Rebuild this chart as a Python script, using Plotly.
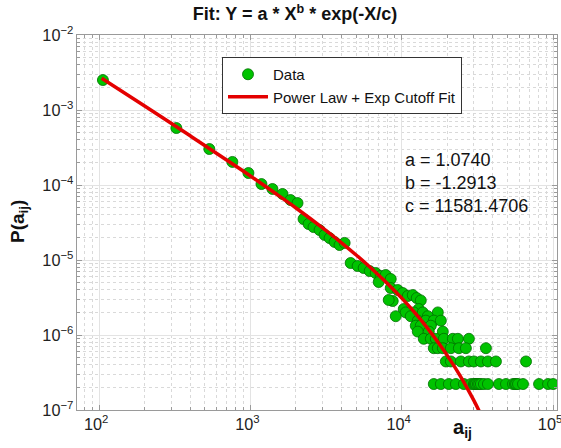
import plotly.graph_objects as go

# ---- data ----
data_x = [106, 324, 535, 760, 970, 1183, 1398, 1629, 1840, 2048,
          2244, 2422, 2612, 2864, 3090, 3336, 3600, 3882, 4194,
          4596, 5111, 5603, 6139, 6726, 7260, 7834, 8457, 7042,
          8457, 9409, 10153, 10957, 11823, 12568, 8718, 8203, 13361,
          10308, 12960,
          11126, 12007, 13776, 17314, 10628,
          9127, 11470, 14866,
          12764, 14418, 16288, 18126,
          12378, 13361, 15562,
          12764, 15094, 18685,
          13985, 15562, 16794, 18972, 21764, 23493, 27780,
          16288, 17314, 18685, 21113, 23850, 26535, 36000,
          19561, 21113, 24587, 27780, 29985, 33361, 37110, 41930, 66260,
          16288, 18126, 20480, 22785, 25740, 28641, 29985, 30500, 31000,
          31857, 32500, 33361, 34914, 37110, 43890, 48840, 54340, 56000,
          57000, 58650, 63290, 80810, 92660, 100000]
data_y = [2.51e-3, 5.75e-4, 3.02e-4, 2.03e-4, 1.445e-4, 1.03e-4, 8.85e-5, 7.59e-5, 6.31e-5, 5.75e-5,
          3.52e-5, 3.02e-5, 2.75e-5, 2.51e-5, 2.16e-5, 1.96e-5, 1.74e-5, 1.585e-5, 1.69e-5,
          9.12e-6, 8.32e-6, 7.82e-6, 7.13e-6, 6.71e-6, 6.12e-6, 6.31e-6, 5.58e-6, 5.09e-6,
          4.23e-6, 3.98e-6, 3.63e-6, 3.31e-6, 3.41e-6, 3.11e-6, 2.84e-6, 2.93e-6, 2.89e-6,
          2.22e-6, 2.22e-6,
          2.0e-6, 2.0e-6, 2.0e-6, 2.0e-6, 2.0e-6,
          1.78e-6, 1.78e-6, 1.78e-6,
          1.555e-6, 1.555e-6, 1.555e-6, 1.555e-6,
          1.33e-6, 1.33e-6, 1.33e-6,
          1.11e-6, 1.11e-6, 1.11e-6,
          8.9e-7, 8.9e-7, 8.9e-7, 8.9e-7, 8.9e-7, 8.9e-7, 8.9e-7,
          6.67e-7, 6.67e-7, 6.67e-7, 6.67e-7, 6.67e-7, 6.67e-7, 6.67e-7,
          4.44e-7, 4.44e-7, 4.44e-7, 4.44e-7, 4.44e-7, 4.44e-7, 4.44e-7, 4.44e-7, 4.44e-7,
          2.22e-7, 2.22e-7, 2.22e-7, 2.22e-7, 2.22e-7, 2.22e-7, 2.22e-7, 2.22e-7, 2.22e-7,
          2.22e-7, 2.22e-7, 2.22e-7, 2.22e-7, 2.22e-7, 2.22e-7, 2.22e-7, 2.22e-7, 2.22e-7,
          2.22e-7, 2.22e-7, 2.22e-7, 2.22e-7, 2.22e-7, 2.22e-7]

fit_x = [104, 200, 400, 700, 1000, 1500, 2000, 3000, 4000, 5000, 6000, 8000,
         10000, 12000, 15000, 18000, 21000, 24000, 27000, 30000, 33000]
fit_y = [2.646e-3, 1.128e-3, 4.527e-4, 2.143e-4, 1.317e-4, 7.47e-5, 4.94e-5, 2.68e-5,
         1.697e-5, 1.167e-5, 8.46e-6, 4.91e-6, 3.10e-6, 2.06e-6, 1.191e-6, 7.26e-7,
         4.59e-7, 2.985e-7, 1.978e-7, 1.333e-7, 9.09e-8]

param_text = ["a = 1.0740", "b = -1.2913", "c = 11581.4706"]
title_text = "<b>Fit: Y = a * X<sup>b</sup> * exp(-X/c)</b>"

FONT = "Liberation Sans, Arial, Helvetica, sans-serif"

fig = go.Figure()
fig.add_trace(go.Scatter(
    x=data_x, y=data_y, mode="markers", name="Data",
    marker=dict(size=11, color="rgb(0,195,0)", line=dict(color="rgb(0,110,0)", width=0.8)),
))
fig.add_trace(go.Scatter(
    x=fit_x, y=fit_y, mode="lines", name="Power Law + Exp Cutoff Fit",
    line=dict(color="rgb(228,0,0)", width=3.5, shape="spline"),
))

axis_common = dict(
    type="log", dtick=1, exponentformat="power", showexponent="all",
    automargin=False, ticklabeloverflow="allow",
    showline=True, linecolor="#9a9a9a", linewidth=1, mirror="ticks",
    ticks="inside", ticklen=5, tickcolor="#9a9a9a",
    showgrid=True, gridcolor="#e3e3e3", gridwidth=1,
    zeroline=False,
    tickfont=dict(size=13, color="#222", family=FONT),
    minor=dict(dtick="D1", ticks="inside", ticklen=3, tickcolor="#9a9a9a",
               showgrid=True, gridcolor="#d9d9d9", griddash="dot", gridwidth=1),
)

fig.update_xaxes(range=[1.854, 5.026], ticklabelshift=-3, **axis_common)
fig.update_yaxes(range=[-7, -2], **axis_common)

L, R, T, B = 77, 4, 35, 38
pw, ph = 561 - L - R, 448 - T - B


def px(x):
    return (x - L) / pw


def py(y):
    return 1 - (y - T) / ph


annotations = []
for i, t in enumerate(param_text):
    annotations.append(dict(
        x=px(403), y=py(160 + 23 * i), xref="paper", yref="paper", text=t, showarrow=False,
        xanchor="left", yanchor="middle", font=dict(size=18, color="#111", family=FONT)))
annotations.append(dict(x=px(462), y=py(428), xref="paper", yref="paper",
                        text="<b>a<sub>ij</sub></b>", showarrow=False, xanchor="center",
                        yanchor="middle", font=dict(size=20, color="#111", family=FONT)))
annotations.append(dict(x=px(19), y=py(222), xref="paper", yref="paper",
                        text="<b>P(a<sub>ij</sub>)</b>", showarrow=False, textangle=-90,
                        xanchor="center", yanchor="middle",
                        font=dict(size=19, color="#111", family=FONT)))

fig.update_layout(
    width=561, height=448,
    margin=dict(l=L, r=R, t=T, b=B),
    paper_bgcolor="white", plot_bgcolor="white",
    font=dict(family=FONT, color="#111"),
    title=dict(text=title_text, x=295 / 561, xanchor="center", y=1 - 14 / 448, yanchor="middle",
               font=dict(size=18, color="#111", family=FONT)),
    showlegend=True,
    legend=dict(x=px(222), y=py(57), xanchor="left", yanchor="top",
                bgcolor="white", bordercolor="#333", borderwidth=1,
                font=dict(size=15, color="#111", family=FONT),
                itemwidth=40, tracegroupgap=0),
    annotations=annotations,
)

fig.write_html("out.html", config={"displayModeBar": False},
               post_script="document.body.style.margin='0px';document.body.style.overflow='hidden';")
